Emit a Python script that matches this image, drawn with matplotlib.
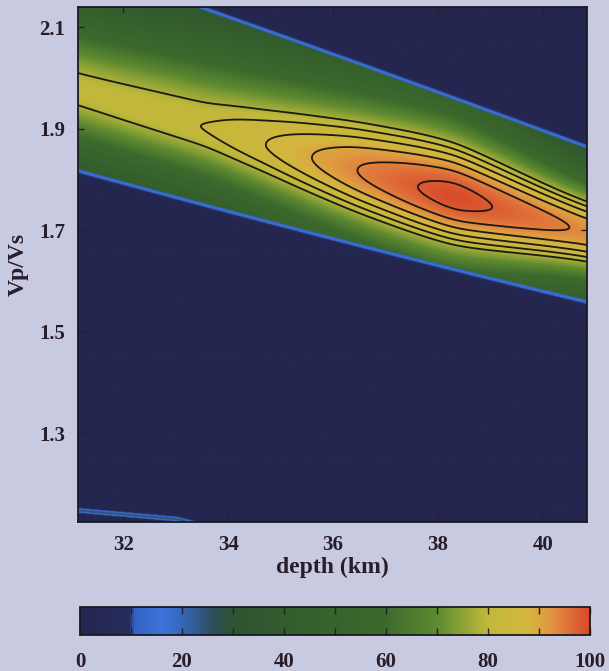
import numpy as np
import matplotlib
matplotlib.use('Agg')
import matplotlib.pyplot as plt
from matplotlib.colors import LinearSegmentedColormap
from matplotlib.ticker import MultipleLocator

# Axis ranges and ticks
depth_lim = [31.14, 40.84]
vpvs_lim = [1.125, 2.14]
depth_ticks = [32, 34, 36, 38, 40]
vpvs_ticks = [1.3, 1.5, 1.7, 1.9, 2.1]
cbar_ticks = [0, 20, 40, 60, 80, 100]
contour_levels = [78, 82, 86, 90, 94, 98]

# Ridge of the stack
ridge_depth = [31.14, 33.62, 35.75, 38.32, 40.84]
ridge_vpvs = [1.972, 1.908, 1.838, 1.759, 1.700]
ridge_w_up = [0.11, 0.13, 0.13, 0.135, 0.078]
ridge_w_down = [0.095, 0.095, 0.112, 0.12, 0.078]

peak_depth = [31.14, 33.62, 34.74, 35.6, 36.44, 37.6, 38.32, 39.03, 40.51, 40.84]
peak_value = [80.5, 82, 86, 90, 94, 98, 100, 98, 94, 93]

# Edges of the main band (blue lines)
upper_depth = [31.14, 33.6, 35.75, 38.29, 39.56, 40.84]
upper_vpvs = [2.22, 2.133, 2.055, 1.956, 1.907, 1.864]
lower_depth = [31.14, 33.33, 35.94, 38.29, 40.84]
lower_vpvs = [1.824, 1.753, 1.694, 1.627, 1.562]

# Second band entering at the bottom left
band2_depth = [31.14, 33.03, 33.6]
band2_vpvs = [1.150, 1.133, 1.118]

floor_val = 25
edge_val = 22
ramp = 0.014


def smooth1d(y, sigma, dx):
    n = int(3 * sigma / dx)
    k = np.exp(-0.5 * (np.arange(-n, n + 1) * dx / sigma) ** 2)
    k = k / k.sum()
    yp = np.concatenate([np.full(n, y[0]), y, np.full(n, y[-1])])
    return np.convolve(yp, k, mode='valid')


# Grid
d = np.linspace(depth_lim[0], depth_lim[1], 500)
v = np.linspace(vpvs_lim[0], vpvs_lim[1], 700)
dx = d[1] - d[0]

c1 = np.polyval(np.polyfit(ridge_depth, ridge_vpvs, 2), d)
p1 = smooth1d(np.interp(d, peak_depth, peak_value), 0.2, dx)
wu1 = smooth1d(np.interp(d, ridge_depth, ridge_w_up), 0.7, dx)
wd1 = smooth1d(np.interp(d, ridge_depth, ridge_w_down), 0.7, dx)
up1 = np.polyval(np.polyfit(upper_depth, upper_vpvs, 2), d)
lo1 = np.polyval(np.polyfit(lower_depth, lower_vpvs, 2), d)
b21 = np.interp(d, band2_depth, band2_vpvs)

D, V = np.meshgrid(d, v)
x = V - c1[None, :]
w = np.where(x > 0, wu1[None, :], wd1[None, :])
ridge = floor_val + (p1[None, :] - floor_val) * np.exp(-0.5 * (x / w) ** 2)

s = np.minimum(up1[None, :] - V, V - lo1[None, :])
field = np.where(s >= 0, ridge, edge_val * np.clip(1 + s / ramp, 0, 1))

# thin line at the bottom left
field2 = 25 * np.exp(-0.5 * ((V - (b21[None, :] - 0.003)) / 0.0035) ** 2)
field = np.maximum(field, field2)

# Colormap
cmap = LinearSegmentedColormap.from_list('hk', [
    (0.0, '#24264f'), (0.095, '#272c5c'), (0.105, '#3361c0'),
    (0.16, '#3c74da'), (0.20, '#3565b8'), (0.26, '#2d4e5a'),
    (0.30, '#2f5230'), (0.45, '#35602c'), (0.60, '#3c6a2c'),
    (0.70, '#5e8a30'), (0.78, '#a8b038'), (0.80, '#c0b83a'),
    (0.88, '#d4b63e'), (0.92, '#e09a40'), (0.96, '#e0703a'),
    (1.0, '#d84a2a')])

txt = '#2a1d2a'
fnt = 'Liberation Serif'

fig = plt.figure(figsize=(6.09, 6.71), dpi=100, facecolor='#c8cae2')
ax = fig.add_axes([78/609, 1-522/671, (587-78)/609, (522-7)/671])
im = ax.imshow(field, extent=[d[0], d[-1], v[0], v[-1]], origin='lower',
               aspect='auto', cmap=cmap, vmin=0, vmax=100, interpolation='bilinear')
ax.contour(D, V, field, levels=contour_levels, colors='#1c1a12', linewidths=1.3)
ax.set_xlim(depth_lim)
ax.set_ylim(vpvs_lim)
ax.set_xticks(depth_ticks)
ax.set_yticks(vpvs_ticks)
ax.set_yticklabels([str(t) for t in vpvs_ticks])
ax.tick_params(direction='in', top=True, right=True, length=4, width=1,
               color='#222', pad=9, labelsize=15, labelcolor=txt)
for lab in ax.get_xticklabels() + ax.get_yticklabels():
    lab.set_fontfamily(fnt)
    lab.set_fontweight('bold')
for sp in ax.spines.values():
    sp.set_linewidth(1.3)
    sp.set_color('#1a1a22')
ax.set_xlabel('depth (km)', fontsize=17, fontweight='bold', family=fnt, color=txt, labelpad=2)
ax.set_ylabel('Vp/Vs', fontsize=17, fontweight='bold', family=fnt, color=txt, labelpad=8)

cax = fig.add_axes([80/609, 1-635/671, (590-80)/609, 28/671])
cb = fig.colorbar(im, cax=cax, orientation='horizontal', ticks=cbar_ticks)
cax.xaxis.set_minor_locator(MultipleLocator(10))
cax.tick_params(which='both', direction='in', top=True, bottom=True, length=5,
                width=1, color='#222', pad=12, labelsize=15, labelcolor=txt)
for lab in cax.get_xticklabels():
    lab.set_fontfamily(fnt)
    lab.set_fontweight('bold')
cb.outline.set_linewidth(1.3)
cb.outline.set_edgecolor('#1a1a22')

fig.savefig('out.png', dpi=100, facecolor=fig.get_facecolor())
